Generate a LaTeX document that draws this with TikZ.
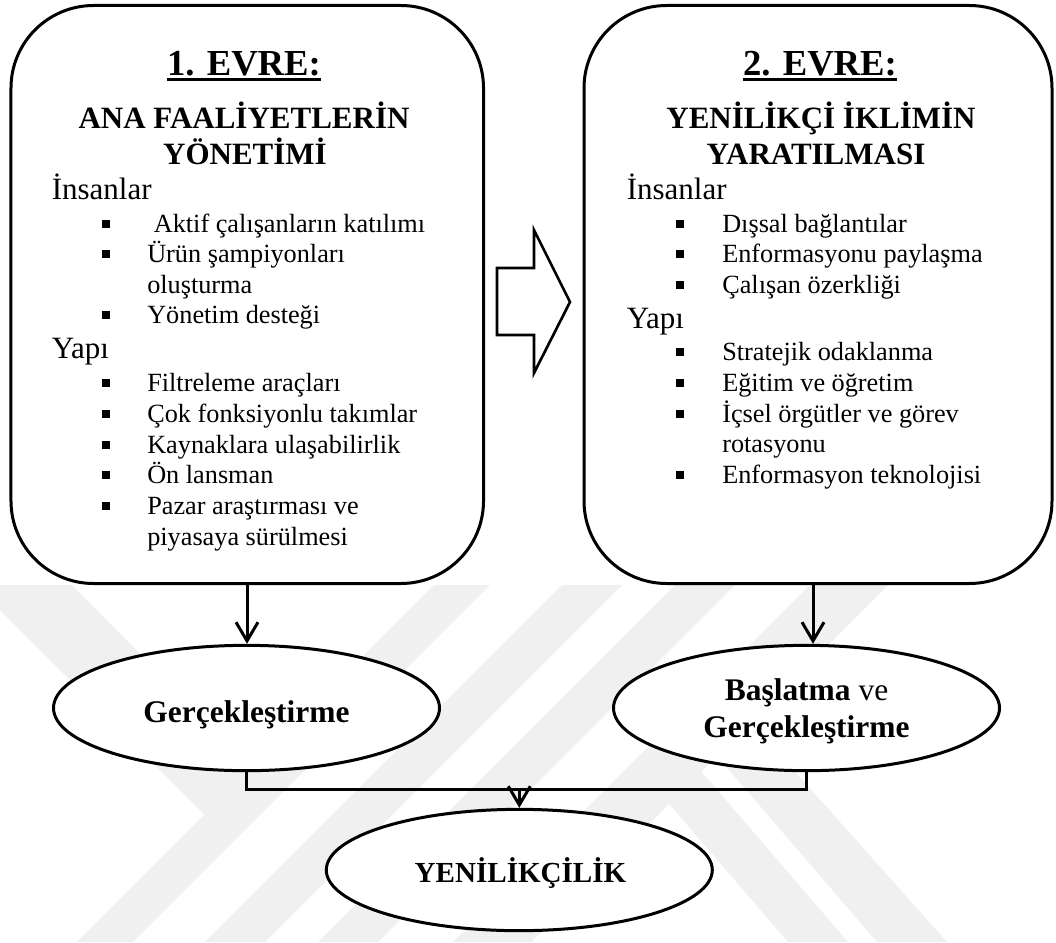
\documentclass[tikz,border=0pt]{standalone}
\usepackage{fontspec}
\setmainfont{Liberation Serif}
\usetikzlibrary{arrows.meta,shapes.geometric}

\begin{document}
\begin{tikzpicture}[x=0.75pt,y=-0.75pt,
  wm/.style={fill=black!6,draw=none},
  panel/.style={draw,line width=2.25pt,rounded corners=62pt,fill=white,inner sep=0},
  oval/.style={ellipse,draw,line width=2.25pt,fill=white,inner sep=0,
               minimum width=289.5pt,minimum height=94pt},
  link/.style={line width=2.25pt},
  tip/.style={link,-{Straight Barb[length=14pt,width=16.5pt]}},
  body/.style={inner sep=0,anchor=base west,font=\fontsize{19.7}{23}\selectfont},
  hdr/.style={inner sep=0,anchor=base west,font=\fontsize{23.25}{27}\selectfont},
  ttl/.style={inner sep=0,anchor=base,font=\fontsize{27.5}{32}\selectfont\bfseries},
  sub/.style={inner sep=0,anchor=base,font=\fontsize{23.25}{27}\selectfont\bfseries},
  otxt/.style={inner sep=0,anchor=base,font=\fontsize{23.6}{27}\selectfont},
]
\useasboundingbox (0,0) rectangle (1056,942);

% faint background watermark bands
\begin{scope}
  \clip (0,583) rectangle (1056,942);
  \fill[wm] (-25,585) -- (72,585) -- (280,795) -- (204,814) -- cycle;
  \fill[wm] (77,942) -- (133,942) -- (490,585) -- (434,585) -- cycle;
  \fill[wm] (205,942) -- (265,942) -- (622,585) -- (562,585) -- cycle;
  \fill[wm] (318,942) -- (378,942) -- (735,585) -- (675,585) -- cycle;
  \fill[wm] (453,942) -- (531,942) -- (888,585) -- (810,585) -- cycle;
  \fill[wm] (640,770) -- (700,770) -- (848,942) -- (788,942) -- cycle;
  \fill[wm] (686,720) -- (749,720) -- (947,942) -- (877,942) -- cycle;
\end{scope}

% the two phase panels
\node[panel,minimum width=354.4pt,minimum height=433.5pt] (box1) at (247.25,294.5) {};
\node[panel,minimum width=351pt,minimum height=433.5pt] (box2) at (818,294.5) {};

% block arrow between the phases
\draw[line width=2pt,line join=miter,fill=white]
  (497,268) -- (534,268) -- (534,230) -- (570,302) -- (534,373)
  -- (534,335) -- (497,335) -- cycle;

% result ovals
\node[oval] (e1) at (246.5,708) {};
\node[oval] (e2) at (806.5,708) {};
\node[oval,minimum height=91pt] (e3) at (519.3,870) {};

% connectors
\coordinate (a1) at (247,583.5);
\coordinate (a2) at (813,583.5);
\coordinate (jn) at (519.3,789);
\draw[tip] (a1) -- (a1 |- e1.north);
\draw[tip] (a2) -- (a2 |- e2.north);
\draw[link] (e1.south) |- (jn) -| (e2.south);
\draw[tip] (jn) -- (e3.north);

% phase 1 text
\node[ttl] (t1) at (244,75) {1. EVRE:};
\draw[line width=2.4pt] ([yshift=-3.5pt]t1.base west) -- ([yshift=-3.5pt]t1.base east);
\node[sub] (s1a) at (244,128) {ANA FAALİYETLERİN};
\node[sub] (s1b) at (245,164) {YÖNETİMİ};
\node[hdr] (h1a) at (51.5,199) {İnsanlar};
\node[hdr] (h1b) at (51.5,358) {Yapı};
\foreach \t/\y/\b [count=\i] in {
    {\ Aktif çalışanların katılımı}/232/1,
    {Ürün şampiyonları}/262/1,
    {oluşturma}/293/0,
    {Yönetim desteği}/323/1,
    {Filtreleme araçları}/391/1,
    {Çok fonksiyonlu takımlar}/422/1,
    {Kaynaklara ulaşabilirlik}/453/1,
    {Ön lansman}/483/1,
    {Pazar araştırması ve}/514/1,
    {piyasaya sürülmesi}/545/0} {
  \node[body] (l\i) at (147,\y) {\t};
  \ifnum\b=1 \fill (101.5,\y-12.5) rectangle (109.5,\y-4.5); \fi
}

% phase 2 text
\node[ttl] (t2) at (820,75) {2. EVRE:};
\draw[line width=2.4pt] ([yshift=-3.5pt]t2.base west) -- ([yshift=-3.5pt]t2.base east);
\node[sub] (s2a) at (821,128) {YENİLİKÇİ İKLİMİN};
\node[sub] (s2b) at (816,164) {YARATILMASI};
\node[hdr] (h2a) at (626.5,199) {İnsanlar};
\node[hdr] (h2b) at (626.5,328) {Yapı};
\foreach \t/\y/\b [count=\i] in {
    {Dışsal bağlantılar}/232/1,
    {Enformasyonu paylaşma}/262/1,
    {Çalışan özerkliği}/293/1,
    {Stratejik odaklanma}/360/1,
    {Eğitim ve öğretim}/391/1,
    {İçsel örgütler ve görev}/422/1,
    {rotasyonu}/452/0,
    {Enformasyon teknolojisi}/483/1} {
  \node[body] (r\i) at (722,\y) {\t};
  \ifnum\b=1 \fill (676,\y-12.5) rectangle (684,\y-4.5); \fi
}

% oval labels
\node[otxt] (e1t) at (246.5,722) {\bfseries Gerçekleştirme};
\node[otxt] (e2ta) at (806.5,700) {\textbf{Başlatma} ve};
\node[otxt] (e2tb) at (806.5,737) {\bfseries Gerçekleştirme};
\node[otxt,font=\fontsize{21.8}{26}\selectfont\bfseries] (e3t) at (520.5,882) {YENİLİKÇİLİK};
\end{tikzpicture}
\end{document}
